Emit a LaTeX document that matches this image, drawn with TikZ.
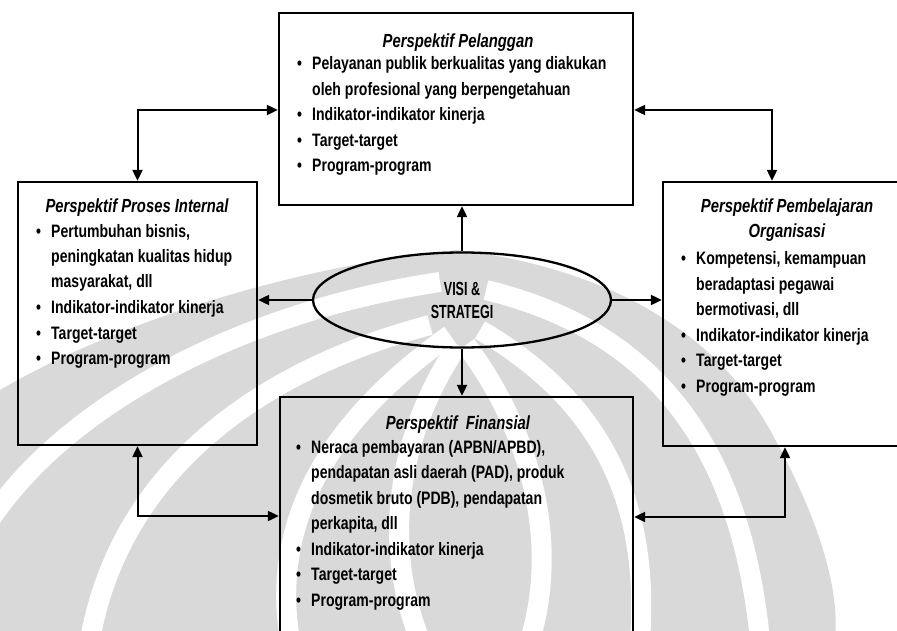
\documentclass[tikz,border=0pt]{standalone}
\usepackage{fontspec}
\setmainfont[FakeStretch=0.78]{Liberation Sans}
\newfontfamily\narrowfont[FakeStretch=0.66]{Liberation Sans}
\usetikzlibrary{arrows.meta,shapes.geometric,calc}

\definecolor{wmgrey}{HTML}{D9D9D9}

% bullet line with hanging indent; continuation lines via \\
\newcommand\bitem[1]{\par\hangindent=15pt\hangafter=1\noindent\makebox[15pt][l]{\textbullet}#1}

\tikzset{
  persp/.style={draw=black, line width=2.3pt, rectangle, inner sep=0pt},
  visi/.style={draw=black, line width=2.3pt, ellipse, inner sep=0pt,
    minimum width=298pt, minimum height=95pt,
    font=\narrowfont\fontsize{19}{23}\selectfont\bfseries, align=center},
  link/.style={line width=2pt, -{Triangle[length=11pt,width=10pt]}},
  link2/.style={line width=2pt, {Triangle[length=11pt,width=10pt]}-{Triangle[length=11pt,width=10pt]}},
  ttl/.style={inner sep=0pt, anchor=base, font=\fontsize{19}{25}\selectfont\bfseries\itshape, align=center},
  body/.style={inner sep=0pt, anchor=base west, font=\fontsize{18}{25.5}\selectfont\bfseries},
  band/.style={white, line width=20pt}
}

\begin{document}
\begin{tikzpicture}[x=1pt,y=-1pt]
\useasboundingbox (0,0) rectangle (897,631);
\clip (0,0) rectangle (897,631);

% faint emblem in the background
\begin{scope}
  \fill[wmgrey] (0,390) .. controls (120,320) and (300,265) .. (458,250)
     .. controls (620,270) and (720,340) .. (770,430)
     .. controls (820,520) and (840,590) .. (835,640) -- (0,640) -- cycle;
  \draw[band] (440,282) .. controls (250,310) and (70,400) .. (-10,520);
  \draw[band] (430,325) .. controls (260,370) and (120,470) .. (90,640);
  \draw[band] (450,335) .. controls (330,420) and (270,520) .. (290,640);
  \draw[band] (458,345) .. controls (400,430) and (380,540) .. (420,640);
  \draw[band] (466,345) .. controls (530,430) and (560,540) .. (530,640);
  \draw[band] (480,330) .. controls (600,400) and (650,500) .. (640,640);
  \draw[band] (486,290) .. controls (650,330) and (740,440) .. (760,640);
\end{scope}

% central ellipse
\node[visi] (visi) at (462,300) {VISI \&\\STRATEGI};

% the four perspective boxes
\node[persp, minimum width=354pt, minimum height=192pt] (pel) at (456,109) {};
\node[persp, minimum width=239pt, minimum height=263pt] (pro) at (137.5,313.5) {};
\node[persp, minimum width=250pt, minimum height=264pt] (org) at (788,314) {};
\node[persp, minimum width=353pt, minimum height=260pt] (fin) at (456.5,527) {};

% box texts
\node[ttl] (pelT) at (458,48) {Perspektif Pelanggan};
\node[body] (pelB) at (297,70) {\parbox[t]{320pt}{%
  \bitem{Pelayanan publik berkualitas yang diakukan\\oleh profesional yang berpengetahuan}
  \bitem{Indikator-indikator kinerja}
  \bitem{Target-target}
  \bitem{Program-program}}};

\node[ttl] (proT) at (137,213) {Perspektif Proses Internal};
\node[body] (proB) at (36,237) {\parbox[t]{215pt}{%
  \bitem{Pertumbuhan bisnis,\\peningkatan kualitas hidup\\masyarakat, dll}
  \bitem{Indikator-indikator kinerja}
  \bitem{Target-target}
  \bitem{Program-program}}};

\node[ttl] (orgT) at (787,238) {Perspektif Pembelajaran\\Organisasi};
\node[body] (orgB) at (681,265) {\parbox[t]{215pt}{%
  \bitem{Kompetensi, kemampuan\\beradaptasi pegawai\\bermotivasi, dll}
  \bitem{Indikator-indikator kinerja}
  \bitem{Target-target}
  \bitem{Program-program}}};

\node[ttl] (finT) at (458,429) {Perspektif\ \ Finansial};
\node[body] (finB) at (296,453) {\parbox[t]{320pt}{%
  \bitem{Neraca pembayaran (APBN/APBD),\\pendapatan asli daerah (PAD), produk\\dosmetik bruto (PDB), pendapatan\\perkapita, dll}
  \bitem{Indikator-indikator kinerja}
  \bitem{Target-target}
  \bitem{Program-program}}};

% arrows from the ellipse
\draw[link] (visi.north) -- (visi.north |- pel.south);
\draw[link] (visi.west) -- (visi.west -| pro.east);
\draw[link] (visi.east) -- (visi.east -| org.west);
\draw[link] (visi.south) -- (visi.south |- fin.north);

% elbow connectors between neighbouring boxes
\coordinate (lt) at (137,110);
\coordinate (rt) at (772,110);
\coordinate (lb) at (137,516);
\coordinate (rb) at (785,517);
\draw[link2] (pro.north) |- (pel.west |- lt);
\draw[link2] (pel.east |- rt) -| (rt |- org.north);
\draw[link2] (pro.south) |- (fin.west |- lb);
\draw[link2] (rb |- org.south) |- (fin.east |- rb);
\end{tikzpicture}
\end{document}
